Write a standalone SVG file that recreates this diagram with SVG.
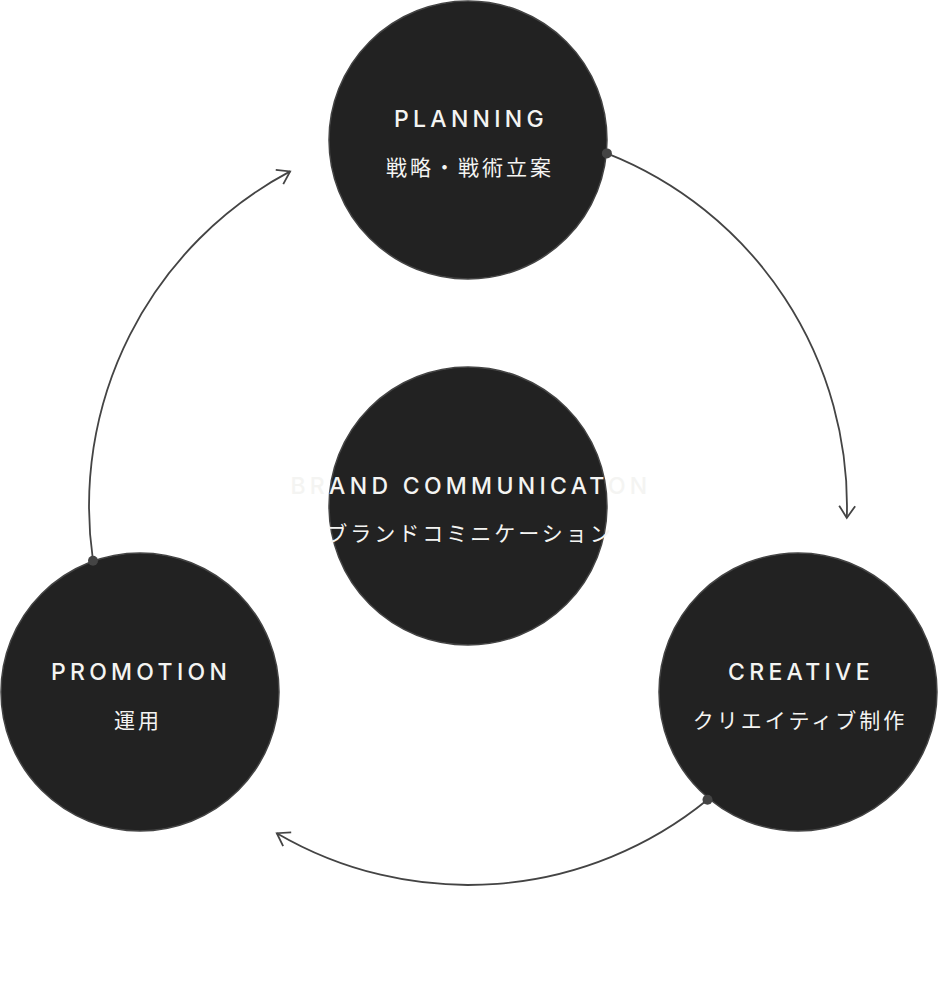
<svg xmlns="http://www.w3.org/2000/svg" width="947" height="1006" viewBox="0 0 947 1006">
<style>
.node circle{fill:#222;stroke:#444;stroke-width:1.5}
.en{font-family:Inter,"Liberation Sans",sans-serif;font-size:23px;font-weight:500;letter-spacing:4.3px;fill:#f4f4f2;text-anchor:middle}
.jp{font-family:"Noto Sans CJK JP","Noto Sans",sans-serif;font-size:21px;letter-spacing:3px;fill:#f4f4f2;text-anchor:middle}
.conn path{fill:none;stroke:#444;stroke-width:1.8}
.conn circle{fill:#444}
</style>
<defs>
<marker id="arr" markerUnits="userSpaceOnUse" markerWidth="30" markerHeight="30" refX="0" refY="0" viewBox="-15 -15 30 30" orient="auto" overflow="visible">
<path d="M-12,-8 L0,0 L-12,8" fill="none" stroke="#444" stroke-width="1.8"/>
</marker>
</defs>
<g id="planning" class="node">
<circle cx="468" cy="140" r="139"/>
<text class="en" x="471" y="127">PLANNING</text>
<text class="jp" x="470" y="175">戦略・戦術立案</text>
</g>
<g id="brand" class="node">
<circle cx="468" cy="506" r="139"/>
<text class="en" x="471" y="494">BRAND COMMUNICATON</text>
<text class="jp" x="470" y="541">ブランドコミニケーション</text>
</g>
<g id="promotion" class="node">
<circle cx="140" cy="692" r="139"/>
<text class="en" x="141" y="680">PROMOTION</text>
<text class="jp" x="138" y="728">運用</text>
</g>
<g id="creative" class="node">
<circle cx="798" cy="692" r="139"/>
<text class="en" x="801" y="680">CREATIVE</text>
<text class="jp" x="800" y="728">クリエイティブ制作</text>
</g>
<g id="connectors" class="conn">
<path d="M606.9,153.4 A379,379 0 0 1 846.8,517.9" marker-end="url(#arr)"/>
<path d="M707.5,799.7 A379,379 0 0 1 276.8,833.2" marker-end="url(#arr)"/>
<path d="M93,560.7 A379,379 0 0 1 290.1,171.4" marker-end="url(#arr)"/>
<circle cx="606.9" cy="153.4" r="5"/>
<circle cx="707.5" cy="799.7" r="5"/>
<circle cx="93" cy="560.7" r="5"/>
</g>
</svg>
